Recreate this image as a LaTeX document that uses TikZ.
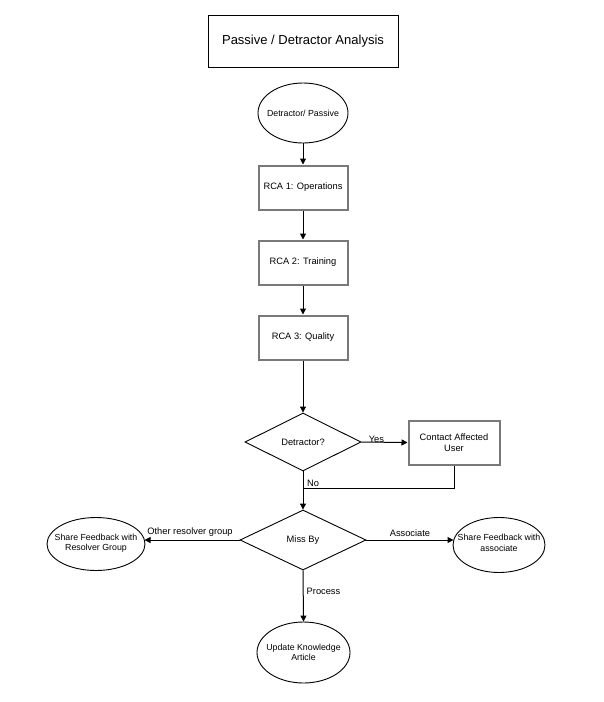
\documentclass[tikz,border=0pt]{standalone}
\usepackage{fontspec}
\setmainfont{Liberation Sans}
\usetikzlibrary{shapes.geometric,arrows.meta}
\begin{document}
\begin{tikzpicture}[x=1pt,y=-1pt,
  every node/.style={font=\fontsize{9.3}{11}\selectfont, align=center, inner sep=0pt},
  title/.style={draw=black, line width=1pt, minimum width=190pt, minimum height=52pt, font=\fontsize{13}{15}\selectfont},
  oval/.style={draw=black, line width=0.9pt, ellipse, minimum width=#1},
  otext/.style={font=\fontsize{8.8}{10.5}\selectfont},
  gbox/.style={draw=gray!95!black, line width=2pt, minimum width=89pt, minimum height=44pt},
  dia/.style={draw=black, line width=0.9pt, diamond, aspect=2},
  conn/.style={line width=1pt},
  arr/.style={conn, -{Triangle[length=6pt,width=6pt]}},
  lab/.style={font=\fontsize{9.3}{11}\selectfont}
]
\useasboundingbox[fill=white] (0,0) rectangle (603,702);
\node[title] (t) at (303,41) {Passive / Detractor Analysis};
\node[oval=90pt, minimum height=60pt, label={[otext]center:Detractor/ Passive}] (dp) at (303,113) {};
\node[gbox] (r1) at (303,187.5) {RCA 1: Operations};
\node[gbox] (r2) at (303,262.5) {RCA 2: Training};
\node[gbox] (r3) at (303,337.5) {RCA 3: Quality};
\node[dia, minimum width=116pt, minimum height=58pt] (d1) at (303,442) {Detractor?};
\node[gbox, minimum width=91pt] (c) at (454,442.5) {Contact Affected\\User};
\node[dia, minimum width=126pt, minimum height=60pt] (m) at (303,540) {Miss By};
\node[oval=98pt, minimum height=53pt, label={[otext, yshift=1pt]center:Share Feedback with\\Resolver Group}] (l) at (96,544) {};
\node[oval=92pt, minimum height=55pt, label={[otext, yshift=2pt]center:Share Feedback with\\associate}] (r) at (499,545) {};
\node[oval=93pt, minimum height=61pt, label={[otext]center:Update Knowledge\\Article}] (u) at (303.5,652.5) {};
\coordinate (j) at (303,488);
\coordinate (la) at (144.5,540);
\coordinate (ra) at (453.5,540);
\draw[arr] (dp) -- (r1);
\draw[arr] (r1) -- (r2);
\draw[arr] (r2) -- (r3);
\draw[arr] (r3) -- (d1);
\draw[arr] (d1.east) -- node[lab, above, yshift=-1pt, xshift=-8pt] {Yes} (c.west);
\draw[arr] (d1.south) -- (m.north);
\node[lab, anchor=south west] (no) at (307,487) {No};
\draw[conn] (c.south) |- (j);
\draw[arr] (m.west) -- node[lab, above, yshift=3pt, xshift=-2pt] {Other resolver group} (la);
\draw[arr] (m.east) -- node[lab, above, yshift=3pt] {Associate} (ra);
\draw[arr] (m.south) -- node[lab, right, xshift=3pt, pos=0.4] {Process} (u.north);
\end{tikzpicture}
\end{document}
